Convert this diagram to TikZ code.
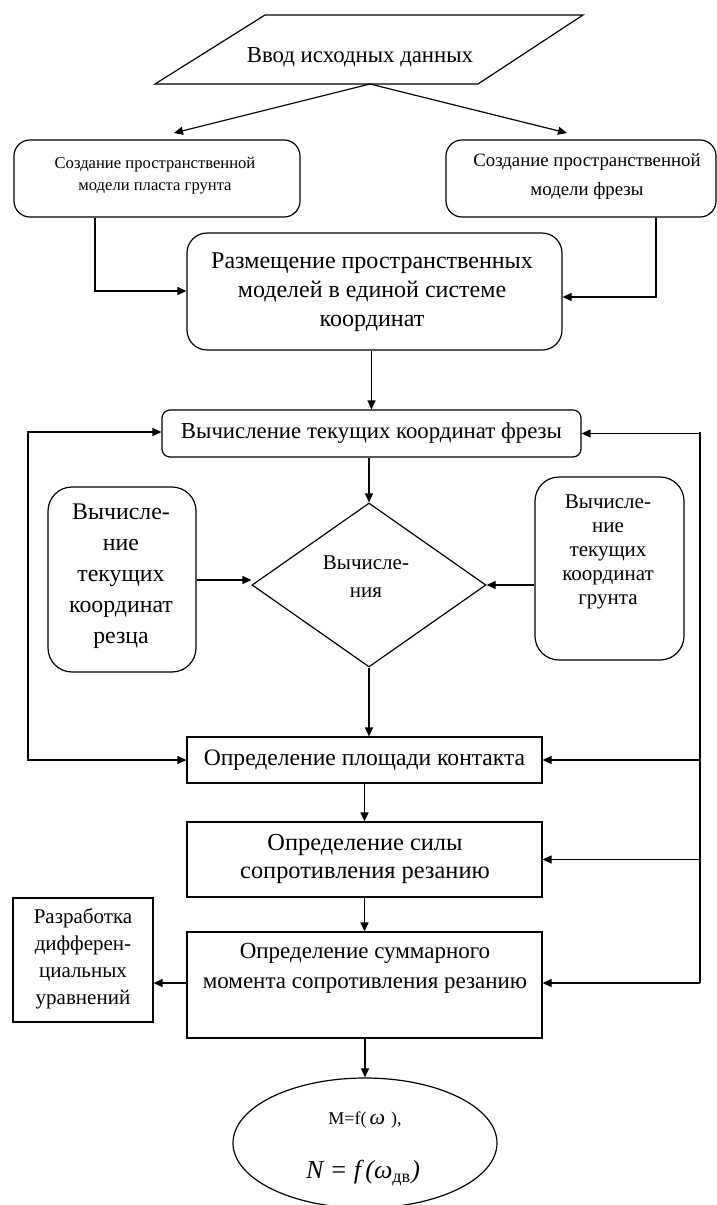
\documentclass[tikz,border=0pt]{standalone}
\usepackage{fontspec}
\setmainfont{Liberation Serif}
\usetikzlibrary{fit,shapes.geometric,arrows.meta}

\begin{document}
\begin{tikzpicture}[
			x = 0.5pt, y = -0.5pt,
			every node/.style = {inner sep = 0pt, align = center},
			line/.style = {line width = 0.6pt},
			arr/.style = {line, -{Triangle[length=4.5pt,width=4pt]}},
			rbox/.style = {line, draw, rounded corners = #1},
			rbox/.default = 8pt,
			sbox/.style = {line, draw}
			]

			\useasboundingbox (0,0) rectangle (717,1205);

			% input data
			\draw[line] (265,15) -- (583,15) -- (478,84) -- (155,84) -- cycle;
			\node[font=\fontsize{11.4}{13}\selectfont] (vvod) at (360,57) {Ввод исходных данных};
			\coordinate (vb) at (370,84);
			\coordinate (tl) at (174,133);
			\coordinate (tr) at (567,133);
			\draw[arr] (vb) -- (tl);
			\draw[arr] (vb) -- (tr);

			% spatial models
			\node[rbox, fit={(14,140) (300,217)}] (plast) {};
			\node[font=\fontsize{8.3}{11}\selectfont] (plastT) at (155,176)
				{Создание пространственной\\модели пласта грунта};
			\node[rbox, fit={(446,140) (716,217)}] (frmod) {};
			\node[font=\fontsize{9.4}{14.5}\selectfont] (frmodT) at (587,177)
				{Создание пространственной\\модели фрезы};
			\node[rbox=10pt, fit={(187,233) (562,350)}] (razm) {};
			\node[font=\fontsize{12}{14.5}\selectfont] (razmT) at (372,292)
				{Размещение пространственных\\моделей в единой системе\\координат};

			\coordinate (pl) at (95,291);
			\coordinate (pr) at (656,297);
			\draw[arr] (plast.south -| pl) -- (pl) -- (razm.west |- pl);
			\draw[arr] (frmod.south -| pr) -- (pr) -- (razm.east |- pr);

			% current coordinates
			\node[rbox=4pt, fit={(162,410) (581,457)}] (freza) {};
			\node[font=\fontsize{11.4}{13}\selectfont] (frezaT) at (freza) {Вычисление текущих координат фрезы};
			\draw[arr] (freza.north |- razm.south) -- (freza.north);

			\node[line, draw, diamond, minimum width=117pt, minimum height=82pt] (calc) at (369,585) {};
			\node[font=\fontsize{10.5}{14}\selectfont] (calcT) at (366,577) {Вычисле-\\ния};
			\draw[arr] (freza.south -| calc.north) -- (calc.north);

			\node[rbox=12pt, fit={(48,487) (196,672)}] (rezec) {};
			\node[font=\fontsize{11.9}{15.5}\selectfont] (rezecT) at (121,576)
				{Вычисле-\\ние\\текущих\\координат\\резца};
			\node[rbox=12pt, fit={(535,477) (684,660)}] (grunt) {};
			\node[font=\fontsize{10.5}{12}\selectfont] (gruntT) at (608,552)
				{Вычисле-\\ние\\текущих\\координат\\грунта};
			\draw[arr] (rezec.east |- 0,580) -- (calc.west |- 0,580);
			\draw[arr] (grunt.west |- calc.east) -- (calc.east);

			% contact, force, moment
			\node[sbox, fit={(187,737) (542,783)}] (plosh) {};
			\node[font=\fontsize{11.8}{14}\selectfont] (ploshT) at (plosh) {Определение площади контакта};
			\node[sbox, fit={(187,822) (542,897)}] (sila) {};
			\node[font=\fontsize{12.2}{14}\selectfont] (silaT) at (365,859)
				{Определение силы\\сопротивления резанию};
			\node[sbox, fit={(187,932) (542,1038)}] (summ) {};
			\node[font=\fontsize{11.5}{15}\selectfont] (summT) at (365,968)
				{Определение суммарного\\момента сопротивления резанию};
			\node[sbox, fit={(13,898) (153,1022)}] (razr) {};
			\node[font=\fontsize{10.5}{13.5}\selectfont] (razrT) at (83,959)
				{Разработка\\дифферен-\\циальных\\уравнений};

			\draw[arr] (calc.south) -- (calc.south |- plosh.north);
			\draw[arr] (plosh.south) -- (sila.north);
			\draw[arr] (sila.south) -- (summ.north);

			\coordinate (ry) at (0,983);
			\draw[arr] (summ.west |- ry) -- (razr.east |- ry);

			% feedback lines
			\coordinate (lt) at (28,432);
			\coordinate (rx) at (700,432);
			\draw[{Triangle[length=4.5pt,width=4pt]}-{Triangle[length=4.5pt,width=4pt]}, line]
				(freza.west |- lt) -- (lt) -- (lt |- plosh.west) -- (plosh.west);
			\draw[line] (rx) -- (rx |- ry);
			\foreach \n in {freza,plosh,sila}{
				\draw[arr] (rx |- \n.east) -- (\n.east);
			}
			\draw[arr] (rx |- ry) -- (summ.east |- ry);

			% result
			\node[line, draw, ellipse, minimum width=132pt, minimum height=65pt] (res) at (365,1143) {};
			\node[font=\fontsize{9}{10}\selectfont] (resM) at (365,1120) {M=f(\,{\fontsize{11}{12}\selectfont\itshape ω}\,\,),};
			\node[font=\fontsize{13}{15}\selectfont\itshape] (resN) at (363,1173)
				{N = f\,(ω\textsubscript{\upshape дв})};
			\draw[arr] (summ.south -| res.north) -- (res.north);

		\end{tikzpicture}
\end{document}
